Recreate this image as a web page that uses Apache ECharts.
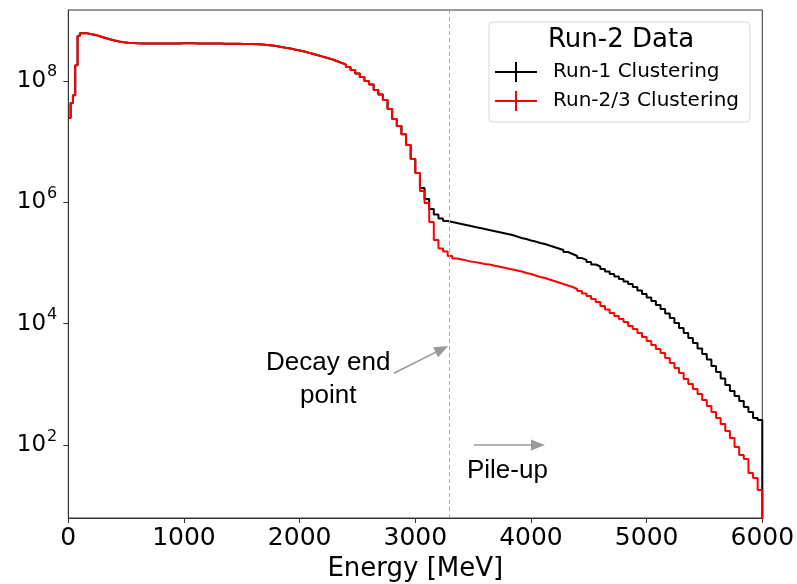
<!DOCTYPE html>
<html>
<head>
<meta charset="utf-8">
<script src="https://cdn.jsdelivr.net/npm/echarts@6/dist/echarts.min.js"></script>
<style>html,body{margin:0;padding:0;background:#fff}#c{width:797px;height:584px}</style>
</head>
<body>
<div id="c"></div>
<script>
// ---- bin edges (MeV) of the step histograms; the last entry is the closing edge ----
const binEdges = [0,20,40,60,80,100,120,140,160,180,
200,240,280,320,360,400,440,480,520,560,600,640,680,720,760,800,840,880,920,960,
1000,1040,1080,1120,1160,1200,1240,1280,1320,1360,1400,1440,1480,1520,1560,1600,1640,1680,1720,1760,
1800,1840,1880,1920,1960,2000,2040,2080,2120,2160,2200,2240,2280,2320,2360,2400,2440,2480,2520,2560,
2600,2640,2680,2720,2760,2800,2840,2880,2920,2960,3000,
3040,3080,3120,3160,3200,3240,3280,3320,3360,3400,3440,3480,3520,3560,3600,3640,3680,3720,3760,3800,
3840,3880,3920,3960,4000,4040,4080,4120,4160,4200,4240,4280,4320,4360,4400,4440,4480,4520,4560,4600,
4640,4680,4720,4760,4800,4840,4880,4920,4960,5000,5040,5080,5120,5160,5200,5240,5280,5320,5360,5400,
5440,5480,5520,5560,5600,5640,5680,5720,5760,5800,5840,5880,5920,5960,6000];

// counts common to both clusterings (bins 0 .. 3000 MeV)
const sharedCounts = [2.44e7,4.3e7,5.8e7,1.8e8,5.47e8,6.1e8,6.1e8,6.05e8,5.95e8,5.85e8,
5.69e8,5.37e8,5.07e8,4.83e8,4.61e8,4.44e8,4.31e8,4.23e8,4.18e8,4.15e8,4.13e8,4.12e8,4.12e8,4.11e8,4.11e8,4.12e8,4.12e8,4.13e8,4.13e8,4.14e8,
4.14e8,4.14e8,4.13e8,4.13e8,4.12e8,4.12e8,4.11e8,4.10e8,4.09e8,4.08e8,4.07e8,4.06e8,4.05e8,4.04e8,4.02e8,4.00e8,3.96e8,3.89e8,3.82e8,3.74e8,
3.61e8,3.50e8,3.41e8,3.28e8,3.16e8,3.04e8,2.89e8,2.76e8,2.63e8,2.50e8,2.37e8,2.26e8,2.12e8,1.98e8,1.86e8,1.69e8,1.51e8,1.32e8,1.15e8,9.9e7,
8.7e7,7.05e7,5.94e7,4.83e7,3.43e7,2.35e7,1.80e7,1.32e7,8.75e6,5.15e6,3.02e6];

// Run-1 clustering counts from 3040 MeV on
const run1TailCounts = [1.71e6,1.13e6,7.73e5,6.27e5,5.38e5,4.90e5,
4.72e5,4.54e5,4.37e5,4.21e5,4.05e5,3.90e5,3.76e5,3.62e5,3.48e5,3.35e5,
3.23e5,3.11e5,2.99e5,2.88e5,2.72e5,2.57e5,2.48e5,2.34e5,2.25e5,2.13e5,
2.05e5,1.93e5,1.83e5,1.73e5,1.63e5,1.51e5,1.40e5,1.30e5,1.20e5,1.12e5,
1.03e5,9.41e4,8.73e4,7.94e4,7.22e4,6.56e4,5.97e4,5.43e4,4.94e4,4.49e4,
4.01e4,3.51e4,3.07e4,2.69e4,2.36e4,2.02e4,1.74e4,1.47e4,1.24e4,1.02e4,
8.46e3,7.00e3,5.79e3,4.79e3,3.89e3,3.16e3,2.56e3,2.00e3,1.60e3,1.25e3,
973,776,641,531,423,350,279,258];

// Run-2/3 clustering counts from 3040 MeV on
const run23TailCounts = [1.53e6,9.7e5,4.72e5,2.38e5,1.73e5,1.54e5,
1.30e5,1.18e5,1.14e5,1.10e5,1.05e5,1.03e5,9.96e4,9.59e4,9.41e4,9.06e4,
8.73e4,8.40e4,8.09e4,7.79e4,7.50e4,7.22e4,6.82e4,6.56e4,6.20e4,5.86e4,
5.64e4,5.33e4,5.04e4,4.76e4,4.49e4,4.24e4,4.01e4,3.72e4,3.44e4,3.13e4,
2.85e4,2.54e4,2.27e4,1.95e4,1.71e4,1.50e4,1.33e4,1.19e4,1.06e4,9.13e3,
8.15e3,7.00e3,6.01e3,5.17e3,4.44e3,3.81e3,3.28e3,2.71e3,2.24e3,1.86e3,
1.54e3,1.22e3,1.01e3,837,692,551,439,350,279,222,
170,130,92.7,68.5,58.8,34.6,28.6,18.1];

const seriesNames = ['Run-1 Clustering', 'Run-2/3 Clustering'];
const seriesColors = ['#000000', '#ff0000'];
const legendTitle = 'Run-2 Data';
const xAxisName = 'Energy [MeV]';
const xRange = [0, 6000];
const xTickStep = 1000;
const yRange = [6.27, 1.467e9];
const decayEndPoint = 3290;
// annotation arrows: [tail [E, count], head [E, count]]
const decayArrow = [[2815, 1.52e3], [3230, 3.8e3]];
const pileupArrow = [[3506, 100], [4060, 100]];
// annotation texts: [E, count, text]
const decayText = [2247, 1.22e3, 'Decay end\npoint'];
const pileupText = [3796, 37.3, 'Pile-up'];

const run1Counts = sharedCounts.concat(run1TailCounts);
const run23Counts = sharedCounts.concat(run23TailCounts);

function histPoints(counts) {
  const pts = counts.map((c, i) => [binEdges[i], c]);
  const last = counts.length;
  pts.push([binEdges[last], counts[last - 1]]);
  pts.push([binEdges[last], 1]); // closing edge drops to zero (below axis)
  return pts;
}

const crossIcon = 'path://M0,9H42V11H0Z M20,0H22V20H20Z';
const axisColor = '#333';
const font = 'DejaVu Sans';

const chart = echarts.init(document.getElementById('c'), null, {renderer: 'canvas'});
chart.setOption({
  animation: false,
  backgroundColor: '#fff',
  grid: {left: 68.3, right: 34.7, top: 10, bottom: 66, show: true, borderColor: axisColor, borderWidth: 1, outerBoundsMode: 'none', containLabel: false},
  xAxis: {
    type: 'value', min: xRange[0], max: xRange[1], interval: xTickStep,
    name: xAxisName, nameLocation: 'middle', nameGap: 38,
    nameTextStyle: {fontSize: 26, fontFamily: font, color: '#000'},
    axisLine: {show: true, lineStyle: {color: axisColor, width: 1}},
    axisTick: {show: true, length: 5, lineStyle: {color: axisColor}},
    axisLabel: {fontSize: 25, fontFamily: font, color: '#000', margin: 8, formatter: v => String(v)},
    splitLine: {show: false}
  },
  yAxis: {
    type: 'log', logBase: 100, min: yRange[0], max: yRange[1],
    axisLine: {show: true, lineStyle: {color: axisColor, width: 1}},
    axisTick: {show: true, length: 5, lineStyle: {color: axisColor}},
    minorTick: {show: false},
    splitLine: {show: false},
    axisLabel: {
      showMinLabel: false, showMaxLabel: false, margin: 11,
      formatter: v => '{b|10}{s|' + Math.round(Math.log10(v)) + '}',
      rich: {
        b: {fontSize: 23, fontFamily: font, color: '#000'},
        s: {fontSize: 16, fontFamily: font, color: '#000', padding: [0, 0, 17, 1]}
      }
    }
  },
  legend: {
    orient: 'vertical', left: 489, top: 22,
    padding: [39, 11, 10, 6], itemGap: 7, itemWidth: 42, itemHeight: 20,
    borderColor: '#d6d6d6', borderWidth: 1, borderRadius: 4, backgroundColor: 'rgba(255,255,255,0.8)',
    textStyle: {fontSize: 20, fontFamily: font, color: '#000', lineHeight: 22, padding: [0, 0, 0, 11]},
    itemStyle: {borderWidth: 0},
    data: seriesNames.map(n => ({name: n, icon: crossIcon}))
  },
  graphic: [{
    type: 'text', x: 621, y: 40, z: 100,
    style: {text: legendTitle, fontSize: 26, fontFamily: font, fill: '#000', align: 'center', verticalAlign: 'middle'}
  }],
  series: [
    {
      name: seriesNames[0], type: 'line', step: 'end', data: histPoints(run1Counts),
      symbol: 'none', showSymbol: false, color: seriesColors[0],
      lineStyle: {width: 2, color: seriesColors[0]}, emphasis: {disabled: true}, z: 2,
      markLine: {
        silent: true, symbol: ['none', 'none'], label: {show: false}, emphasis: {disabled: true},
        lineStyle: {type: [4, 3], color: '#aaaaaa', width: 1},
        data: [{xAxis: decayEndPoint}]
      }
    },
    {
      name: seriesNames[1], type: 'line', step: 'end', data: histPoints(run23Counts),
      symbol: 'none', showSymbol: false, color: seriesColors[1],
      lineStyle: {width: 2, color: seriesColors[1]}, emphasis: {disabled: true}, z: 3,
      markLine: {
        silent: true, symbol: ['none', 'triangle'], symbolSize: [11, 14],
        label: {show: false}, emphasis: {disabled: true},
        lineStyle: {type: 'solid', color: '#999999', width: 1.5},
        itemStyle: {color: '#999999'},
        data: [
          [{coord: decayArrow[0]}, {coord: decayArrow[1]}],
          [{coord: pileupArrow[0]}, {coord: pileupArrow[1]}]
        ]
      },
      markPoint: {
        silent: true, symbol: 'circle', symbolSize: 1, itemStyle: {color: 'rgba(0,0,0,0)'},
        label: {show: true, position: 'inside', color: '#000', fontFamily: 'Liberation Sans', fontSize: 26, lineHeight: 33, align: 'center'},
        emphasis: {disabled: true},
        data: [
          {coord: [decayText[0], decayText[1]], label: {formatter: decayText[2]}},
          {coord: [pileupText[0], pileupText[1]], label: {formatter: pileupText[2]}}
        ]
      }
    }
  ]
});
</script>
</body>
</html>
